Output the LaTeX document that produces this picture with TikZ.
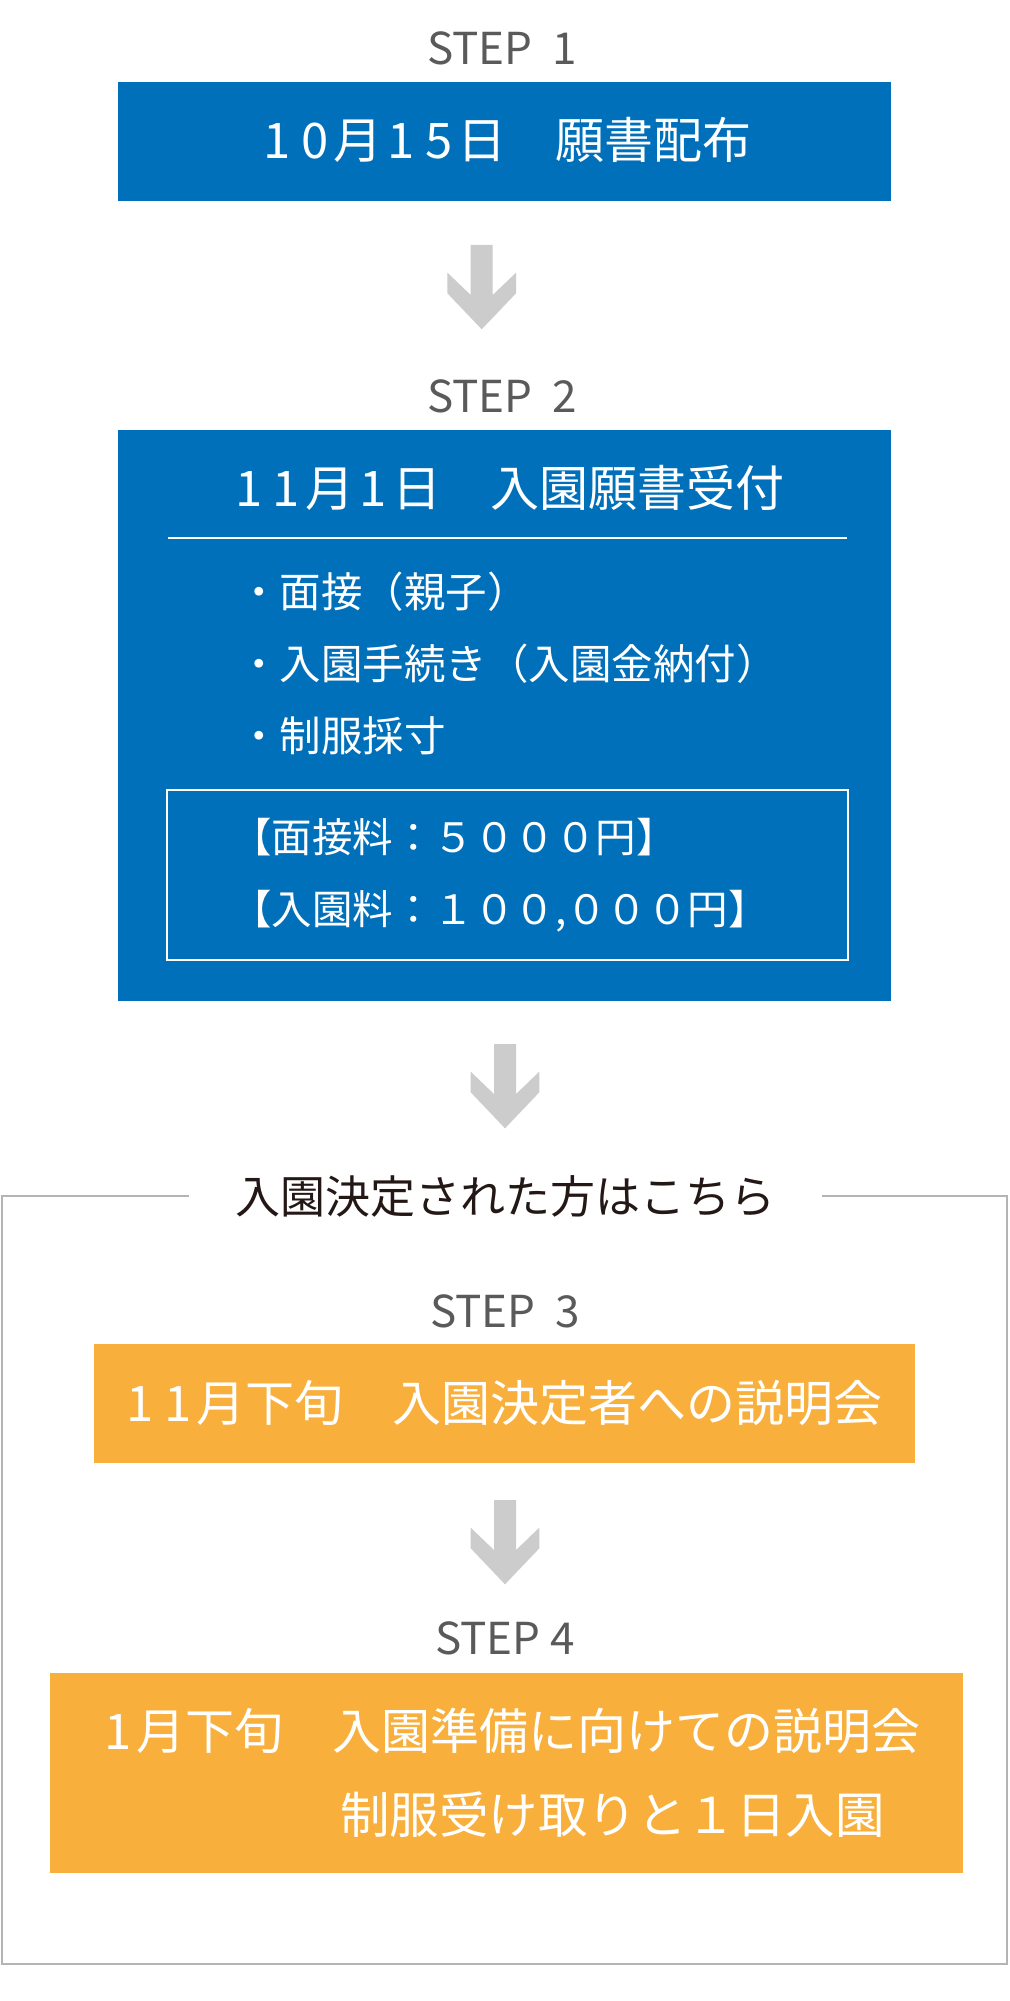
\documentclass[tikz,border=0pt]{standalone}
\usepackage{fontspec}
\setmainfont{Noto Sans CJK JP}
\usetikzlibrary{positioning}

\definecolor{stepblue}{HTML}{0070BB}
\definecolor{steporange}{HTML}{F8AF3C}
\definecolor{stepgray}{HTML}{5A5A5A}
\definecolor{arrowgray}{HTML}{CCCCCC}
\definecolor{framegray}{HTML}{B4B4B4}
\definecolor{headblack}{HTML}{231815}

\newcommand{\dgt}[1]{\makebox[0.77em]{#1}}

\tikzset{
  bigarrow/.pic={
    \fill[arrowgray] (-11,0) -- (11,0) -- (11,50) -- (34.3,27.7) -- (34.3,48.3)
      -- (0,84.3) -- (-34.3,48.3) -- (-34.3,27.7) -- (-11,50) -- cycle;
  }
}

\begin{document}
\begin{tikzpicture}[x=1pt,y=-1pt,
  steplabel/.style={text=stepgray,inner sep=0pt,font=\fontsize{44}{44}\selectfont},
  bluebox/.style={fill=stepblue,inner sep=0pt,minimum width=773pt},
  orangebox/.style={fill=steporange,inner sep=0pt},
  boxtext/.style={text=white,inner sep=0pt,font=\fontsize{49}{49}\selectfont},
  itemtext/.style={text=white,inner sep=0pt,anchor=west,font=\fontsize{41.5}{41.5}\selectfont}]

\useasboundingbox (0,0) rectangle (1009,2001);
\fill[white] (0,0) rectangle (1009,2001);

\coordinate (S1) at (502,48);
\coordinate (S2) at (502,396);
\coordinate (S3) at (505,1311);
\coordinate (S4) at (505,1638);

\node[steplabel] (step1) at (S1) {STEP\ \ 1};
\node[bluebox,minimum height=119pt] (box1) at (504.5,141.5) {};
\node[boxtext] (title1) at (505,140) {\dgt{1}\dgt{0}月\dgt{1}\dgt{5}日　願書配布};

\pic at (481.7,245) {bigarrow};

\node[steplabel] (step2) at (S2) {STEP\ \ 2};
\node[bluebox,minimum height=571pt] (box2) at (504.5,715.5) {};
\node[boxtext] (title2) at (507,488) {\dgt{1}\dgt{1}月\dgt{1}日　入園願書受付};
\draw[white,line width=2pt] (168,538) -- (847,538);
\node[itemtext] (item1) at (238,592) {・面接（親子）};
\node[itemtext] (item2) at (238,664) {・入園手続き（入園金納付）};
\node[itemtext] (item3) at (238,736) {・制服採寸};
\node[draw=white,line width=1.5pt,minimum width=681pt,minimum height=170pt] (fees) at (507.5,875) {};
\node[itemtext,font=\fontsize{40.5}{40.5}\selectfont] (fee1) at (231,837) {【面接料：５０００円】};
\node[itemtext,font=\fontsize{40.5}{40.5}\selectfont] (fee2) at (231,911) {【入園料：１００,０００円】};

\pic at (505,1044) {bigarrow};

\node[text=headblack,inner ysep=0pt,inner xsep=46pt,font=\fontsize{45}{45}\selectfont] (head) at (505.5,1196) {入園決定された方はこちら};
\draw[framegray,line width=2pt] (head.west) -- (2,1196) -- (2,1964) -- (1007,1964) -- (1007,1196) -- (head.east);

\node[steplabel] (step3) at (S3) {STEP\ \ 3};
\node[orangebox,minimum width=821pt,minimum height=119pt] (box3) at (504.5,1403.5) {};
\node[boxtext] (title3) at (502,1403) {\dgt{1}\dgt{1}月下旬　入園決定者への説明会};

\pic at (505,1500) {bigarrow};

\node[steplabel] (step4) at (S4) {STEP\ 4};
\node[orangebox,minimum width=913pt,minimum height=200pt] (box4) at (506.5,1773) {};
\node[boxtext] (title4) at (510,1731) {\dgt{1}月下旬　入園準備に向けての説明会};
\node[boxtext,anchor=west,font=\fontsize{49.5}{49.5}\selectfont] (sub4) at (340,1815) {制服受け取りと１日入園};

\end{tikzpicture}
\end{document}
